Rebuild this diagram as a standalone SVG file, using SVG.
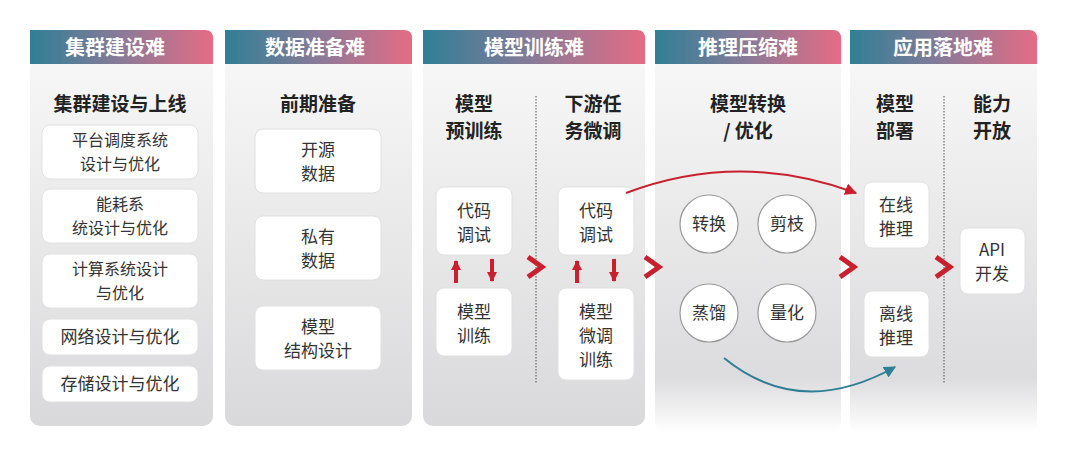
<svg xmlns="http://www.w3.org/2000/svg" width="1080" height="460" viewBox="0 0 1080 460">
<defs>
<linearGradient id="hg" x1="0" y1="0" x2="1" y2="0"><stop offset="0" stop-color="#2f7f96"/><stop offset="0.5" stop-color="#8a7a98"/><stop offset="1" stop-color="#e56c84"/></linearGradient>
<linearGradient id="pg" x1="0" y1="0" x2="0" y2="1"><stop offset="0" stop-color="#f7f7f7"/><stop offset="1" stop-color="#d9d9db"/></linearGradient>
<linearGradient id="pg2" x1="0" y1="0" x2="0" y2="1"><stop offset="0" stop-color="#f7f7f7"/><stop offset="0.85" stop-color="#dcdcde"/><stop offset="1" stop-color="#ffffff"/></linearGradient>
<marker id="ar" viewBox="0 0 10 10" refX="9" refY="5" markerWidth="12" markerHeight="12" markerUnits="userSpaceOnUse" orient="auto"><path d="M0,0 L10,5 L0,10 z" fill="#c8202e"/></marker>
<marker id="as" viewBox="0 0 10 10" refX="9" refY="5" markerWidth="10" markerHeight="10" markerUnits="userSpaceOnUse" orient="auto"><path d="M0,0 L10,5 L0,10 z" fill="#c8202e"/></marker>
<marker id="ab" viewBox="0 0 10 10" refX="9" refY="5" markerWidth="12" markerHeight="12" markerUnits="userSpaceOnUse" orient="auto"><path d="M0,0 L10,5 L0,10 z" fill="#2f7f96"/></marker>
</defs>
<style>
text{font-family:"Noto Sans CJK SC","Noto Sans",sans-serif;text-anchor:middle}
.h{fill:#fff;font-size:20px;font-weight:bold}
.t{fill:#222;font-size:19px;font-weight:bold}
.b{fill:#333;font-size:17px}
.s{fill:#333;font-size:16px}
.box{fill:#fff;stroke:#e0e0e0;stroke-width:1}
.c{fill:#fff;stroke:#999;stroke-width:1.2}
.sep{stroke:#555;stroke-width:1;stroke-dasharray:1.5,1.5}
.chev{fill:none;stroke:#c8202e;stroke-width:5}
</style>
<rect width="1080" height="460" fill="#fff"/>
<g id="col1">
<rect x="30" y="58" width="183" height="368" rx="10" fill="url(#pg)"/>
<path d="M30,30 H205 Q213,30 213,38 V64 H30 Z" fill="url(#hg)"/>
<text class="h" x="115" y="55">集群建设难</text>
<text class="t" x="120" y="111">集群建设与上线</text>
<rect class="box" x="42" y="125" width="156" height="54" rx="8"/><text class="s" x="120" y="146">平台调度系统</text><text class="s" x="120" y="170">设计与优化</text>
<rect class="box" x="42" y="189" width="156" height="54" rx="8"/><text class="s" x="120" y="210">能耗系</text><text class="s" x="120" y="234">统设计与优化</text>
<rect class="box" x="42" y="254" width="156" height="54" rx="8"/><text class="s" x="120" y="275">计算系统设计</text><text class="s" x="120" y="299">与优化</text>
<rect class="box" x="42" y="319" width="156" height="36" rx="8"/><text class="b" x="120" y="343">网络设计与优化</text>
<rect class="box" x="42" y="366" width="156" height="36" rx="8"/><text class="b" x="120" y="390">存储设计与优化</text>
</g>
<g id="col2">
<rect x="225" y="58" width="187" height="368" rx="10" fill="url(#pg)"/>
<path d="M225,30 H404 Q412,30 412,38 V64 H225 Z" fill="url(#hg)"/>
<text class="h" x="315" y="55">数据准备难</text>
<text class="t" x="318" y="111">前期准备</text>
<rect class="box" x="255" y="129" width="126" height="64" rx="8"/><text class="b" x="318" y="156">开源</text><text class="b" x="318" y="180">数据</text>
<rect class="box" x="255" y="216" width="126" height="64" rx="8"/><text class="b" x="318" y="243">私有</text><text class="b" x="318" y="267">数据</text>
<rect class="box" x="255" y="306" width="126" height="64" rx="8"/><text class="b" x="318" y="333">模型</text><text class="b" x="318" y="357">结构设计</text>
</g>
<g id="col3">
<rect x="423" y="58" width="222" height="368" rx="10" fill="url(#pg)"/>
<path d="M423,30 H637 Q645,30 645,38 V64 H423 Z" fill="url(#hg)"/>
<text class="h" x="534" y="55">模型训练难</text>
<text class="t" x="474" y="111">模型</text><text class="t" x="474" y="138">预训练</text>
<text class="t" x="593" y="111">下游任</text><text class="t" x="593" y="138">务微调</text>
<line class="sep" x1="536" y1="96" x2="536" y2="383"/>
<rect class="box" x="436" y="187" width="76" height="68" rx="8"/><text class="b" x="474" y="217">代码</text><text class="b" x="474" y="241">调试</text>
<rect class="box" x="436" y="288" width="76" height="68" rx="8"/><text class="b" x="474" y="318">模型</text><text class="b" x="474" y="342">训练</text>
<rect class="box" x="558" y="187" width="76" height="68" rx="8"/><text class="b" x="596" y="217">代码</text><text class="b" x="596" y="241">调试</text>
<rect class="box" x="558" y="288" width="76" height="92" rx="8"/><text class="b" x="596" y="318">模型</text><text class="b" x="596" y="342">微调</text><text class="b" x="596" y="366">训练</text>
</g>
<g id="col4">
<rect x="655" y="58" width="186" height="375" rx="10" fill="url(#pg2)"/>
<path d="M655,30 H833 Q841,30 841,38 V64 H655 Z" fill="url(#hg)"/>
<text class="h" x="748" y="55">推理压缩难</text>
<text class="t" x="748" y="111">模型转换</text><text class="t" x="748" y="138">/ 优化</text>
<circle class="c" cx="709" cy="224" r="29"/><text class="b" x="709" y="230">转换</text>
<circle class="c" cx="787" cy="224" r="29"/><text class="b" x="787" y="230">剪枝</text>
<circle class="c" cx="709" cy="313" r="29"/><text class="b" x="709" y="319">蒸馏</text>
<circle class="c" cx="787" cy="313" r="29"/><text class="b" x="787" y="319">量化</text>
</g>
<g id="col5">
<rect x="850" y="58" width="187" height="375" rx="10" fill="url(#pg2)"/>
<path d="M850,30 H1029 Q1037,30 1037,38 V64 H850 Z" fill="url(#hg)"/>
<text class="h" x="943" y="55">应用落地难</text>
<text class="t" x="895" y="111">模型</text><text class="t" x="895" y="138">部署</text>
<text class="t" x="992" y="111">能力</text><text class="t" x="992" y="138">开放</text>
<line class="sep" x1="944" y1="96" x2="944" y2="383"/>
<rect class="box" x="864" y="182" width="65" height="66" rx="8"/><text class="b" x="896" y="211">在线</text><text class="b" x="896" y="235">推理</text>
<rect class="box" x="864" y="291" width="65" height="66" rx="8"/><text class="b" x="896" y="320">离线</text><text class="b" x="896" y="344">推理</text>
<rect class="box" x="960" y="228" width="65" height="66" rx="8"/><text class="b" x="992" y="256">API</text><text class="b" x="992" y="280">开发</text>
</g>
<g id="connectors">
<path d="M456,283 V261" stroke="#c8202e" stroke-width="4" marker-end="url(#as)"/>
<path d="M492,259 V281" stroke="#c8202e" stroke-width="4" marker-end="url(#as)"/>
<path d="M577,283 V261" stroke="#c8202e" stroke-width="4" marker-end="url(#as)"/>
<path d="M614,259 V281" stroke="#c8202e" stroke-width="4" marker-end="url(#as)"/>
<path class="chev" d="M528,257 L542,267 L528,277"/>
<path class="chev" d="M645,257 L659,267 L645,277"/>
<path class="chev" d="M840,257 L854,267 L840,277"/>
<path class="chev" d="M936,257 L950,267 L936,277"/>
<path d="M626,193 Q740,150 856,193" fill="none" stroke="#c8202e" stroke-width="2" marker-end="url(#ar)"/>
<path d="M724,358 Q800,420 895,367" fill="none" stroke="#2f7f96" stroke-width="2" marker-end="url(#ab)"/>
</g>
</svg>
